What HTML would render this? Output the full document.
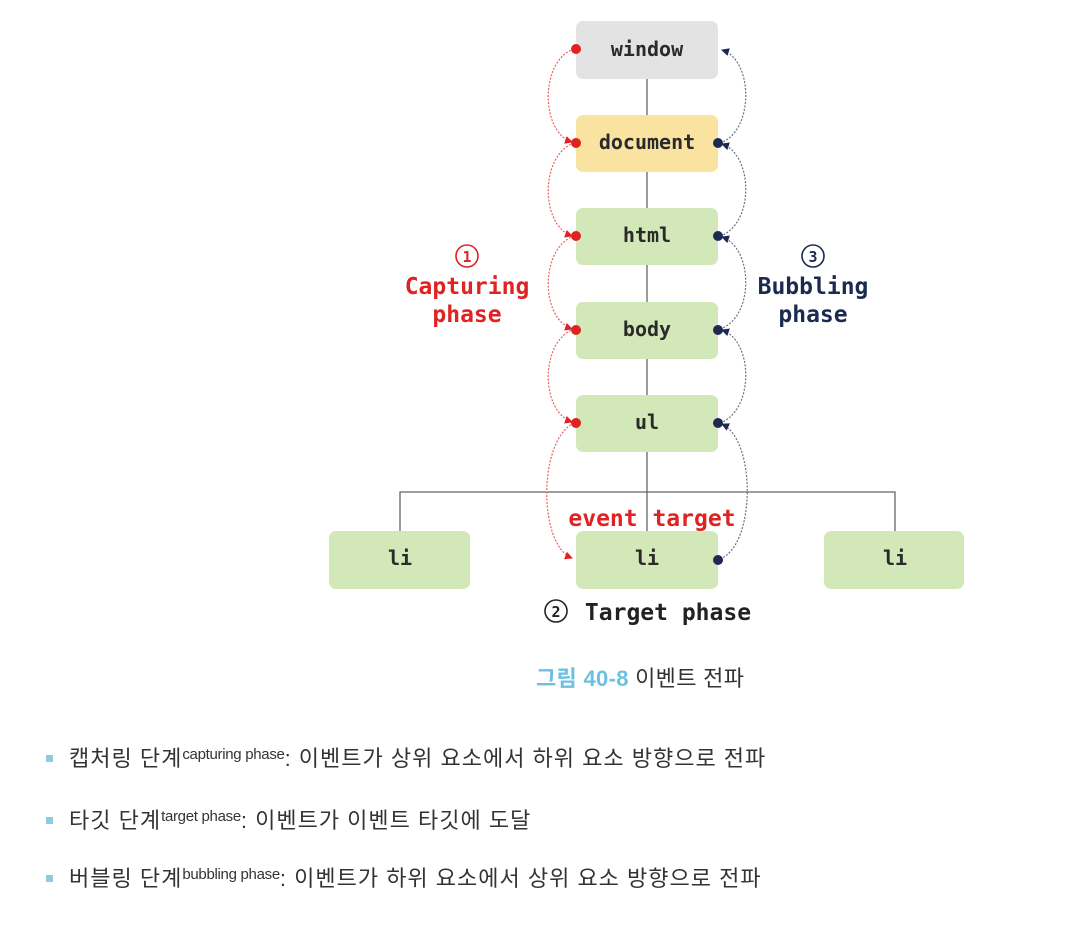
<!DOCTYPE html>
<html><head><meta charset="utf-8"><style>
html,body{margin:0;padding:0;background:#fff;width:1084px;height:930px;overflow:hidden}
svg{position:absolute;left:0;top:0}
.m{font-family:"DejaVu Sans Mono","Liberation Mono",monospace;font-weight:bold}
.k{position:absolute;font-family:"Liberation Sans","Noto Sans CJK KR",sans-serif;color:#333;font-size:22px;letter-spacing:1px;white-space:nowrap}
.k sup{font-size:15px;vertical-align:7px;letter-spacing:-0.3px}
.b{display:inline-block;width:7px;height:7px;background:#8ccbe0;margin-right:16px;vertical-align:middle;position:relative;top:-2px}
</style></head><body>
<svg width="1084" height="930" viewBox="0 0 1084 930">
<defs>
<marker id="ar" markerWidth="8" markerHeight="8" refX="7" refY="4" orient="auto" markerUnits="userSpaceOnUse"><path d="M0,0 L8,4 L0,8z" fill="#e02222"/></marker>
<marker id="ab" markerWidth="8" markerHeight="8" refX="7" refY="4" orient="auto" markerUnits="userSpaceOnUse"><path d="M0,0 L8,4 L0,8z" fill="#1c2a52"/></marker>
</defs>
<g stroke="#666" stroke-width="1.3" fill="none">
<line x1="647" y1="79" x2="647" y2="531"/>
<polyline points="400,531 400,492 895,492 895,531"/>
</g>
<g>
<rect x="576" y="21" width="142" height="58" rx="7" fill="#e3e3e3"/>
<rect x="576" y="115" width="142" height="57" rx="7" fill="#fae3a0"/>
<rect x="576" y="208" width="142" height="57" rx="7" fill="#d2e8b9"/>
<rect x="576" y="302" width="142" height="57" rx="7" fill="#d2e8b9"/>
<rect x="576" y="395" width="142" height="57" rx="7" fill="#d2e8b9"/>
<rect x="576" y="531" width="142" height="58" rx="7" fill="#d2e8b9"/>
<rect x="329" y="531" width="141" height="58" rx="7" fill="#d2e8b9"/>
<rect x="824" y="531" width="140" height="58" rx="7" fill="#d2e8b9"/>
</g>
<g class="m" font-size="20" fill="#2a2a2a" text-anchor="middle">
<text x="647" y="56">window</text>
<text x="647" y="149">document</text>
<text x="647" y="242">html</text>
<text x="647" y="336">body</text>
<text x="647" y="429">ul</text>
<text x="647" y="565">li</text>
<text x="400" y="565">li</text>
<text x="895" y="565">li</text>
</g>
<g fill="none" stroke="#e86060" stroke-width="1.2" stroke-dasharray="2,1.5">
<path d="M574,49 C540,60 540,132 572,142" marker-end="url(#ar)"/>
<path d="M574,143 C540,155 540,225 572,236" marker-end="url(#ar)"/>
<path d="M574,236 C540,248 540,318 572,329" marker-end="url(#ar)"/>
<path d="M574,329 C540,341 540,411 572,422" marker-end="url(#ar)"/>
<path d="M574,423 C538,440 538,545 572,558" marker-end="url(#ar)"/>
</g>
<g fill="none" stroke="#6a7088" stroke-width="1.2" stroke-dasharray="2,1.5">
<path d="M720,143 C754,132 754,60 722,50" marker-end="url(#ab)"/>
<path d="M720,236 C754,225 754,155 722,144" marker-end="url(#ab)"/>
<path d="M720,329 C754,318 754,248 722,237" marker-end="url(#ab)"/>
<path d="M720,423 C754,411 754,341 722,330" marker-end="url(#ab)"/>
<path d="M720,559 C756,545 756,440 722,424" marker-end="url(#ab)"/>
</g>
<g fill="#e02222"><circle cx="576" cy="49" r="5"/><circle cx="576" cy="143" r="5"/><circle cx="576" cy="236" r="5"/><circle cx="576" cy="330" r="5"/><circle cx="576" cy="423" r="5"/></g>
<g fill="#1c2a52"><circle cx="718" cy="143" r="5"/><circle cx="718" cy="236" r="5"/><circle cx="718" cy="330" r="5"/><circle cx="718" cy="423" r="5"/><circle cx="718" cy="560" r="5"/></g>
<g class="m" font-size="23" text-anchor="middle">
<circle cx="467" cy="256" r="11" fill="none" stroke="#e02222" stroke-width="1.6"/>
<text x="467" y="262" font-size="15" fill="#e02222">1</text>
<text x="467" y="294" fill="#e02222">Capturing</text>
<text x="467" y="322" fill="#e02222">phase</text>
<circle cx="813" cy="256" r="11" fill="none" stroke="#1c2a52" stroke-width="1.6"/>
<text x="813" y="262" font-size="15" fill="#1c2a52">3</text>
<text x="813" y="294" fill="#1c2a52">Bubbling</text>
<text x="813" y="322" fill="#1c2a52">phase</text>
<text x="603" y="526" fill="#e02222">event</text>
<text x="694" y="526" fill="#e02222">target</text>
<circle cx="556" cy="611" r="11" fill="none" stroke="#222" stroke-width="1.6"/>
<text x="556" y="617" font-size="15" fill="#222">2</text>
<text x="668" y="620" fill="#222">Target phase</text>
</g>
</svg>
<div class="k" style="left:536px;top:661px;letter-spacing:0.3px"><span style="color:#6cc0e0;font-weight:bold">그림 40-8</span> 이벤트 전파</div>
<div class="k" style="left:46px;top:741px;"><span class="b"></span>캡처링 단계<sup>capturing phase</sup>: 이벤트가 상위 요소에서 하위 요소 방향으로 전파</div>
<div class="k" style="left:46px;top:803px;"><span class="b"></span>타깃 단계<sup>target phase</sup>: 이벤트가 이벤트 타깃에 도달</div>
<div class="k" style="left:46px;top:861px;"><span class="b"></span>버블링 단계<sup>bubbling phase</sup>: 이벤트가 하위 요소에서 상위 요소 방향으로 전파</div>
</body></html>
